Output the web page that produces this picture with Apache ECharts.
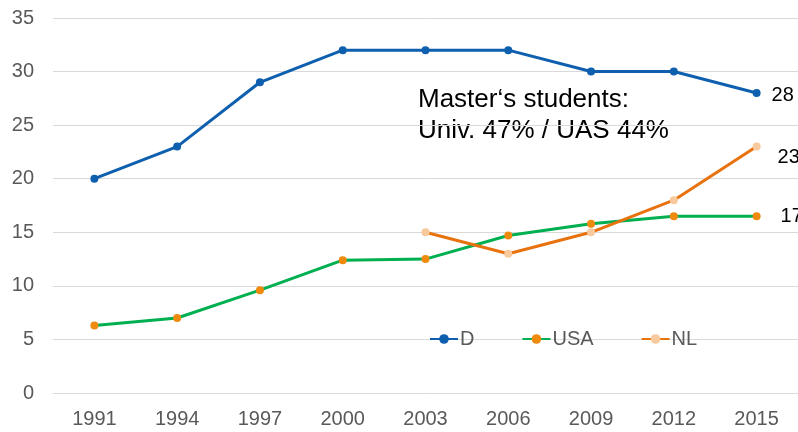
<!DOCTYPE html>
<html>
<head>
<meta charset="utf-8">
<script src="https://cdn.jsdelivr.net/npm/echarts@6/dist/echarts.min.js"></script>
<style>
  html, body { margin: 0; padding: 0; background: #fff; }
  #chart { width: 798px; height: 432px; }
</style>
</head>
<body>
<div id="chart"></div>
<script>
// 数据
const years = ['1991', '1994', '1997', '2000', '2003', '2006', '2009', '2012', '2015']
const dValues = [20, 23, 29, 32, 32, 32, 30, 30, 28]
const usaValues = [6.3, 7.0, 9.6, 12.4, 12.5, 14.7, 15.8, 16.5, 16.5]
const nlValues = [null, null, null, null, 15, 13, 15, 18, 23]
const endLabels = ['28', '23', '17']

const chartIns = echarts.init(document.getElementById('chart'))
const textFont = 'Liberation Sans, Arial, sans-serif'

// 只在最后一个点显示标签
const endLabel = (txt, offset) => ({
    show: true,
    position: 'right',
    distance: 3,
    offset: offset,
    formatter: (p) => p.dataIndex === years.length - 1 ? txt : '',
    color: '#000',
    fontSize: 20,
    fontFamily: textFont
})

const option = {
    animation: false,
    grid: {
        left: 53,
        top: 18,
        width: 755,
        height: 375
    },
    xAxis: {
        type: 'category',
        data: years,
        boundaryGap: true,
        axisLine: { show: false },
        axisTick: { show: false },
        axisLabel: { color: '#595959', fontSize: 20, fontFamily: textFont, margin: 16 }
    },
    yAxis: {
        type: 'value',
        min: 0,
        max: 35,
        interval: 5,
        axisLine: { show: false },
        axisTick: { show: false },
        axisLabel: { color: '#595959', fontSize: 20, fontFamily: textFont, margin: 19 },
        splitLine: { lineStyle: { color: '#d9d9d9', width: 1 } }
    },
    legend: {
        data: ['D', 'USA', 'NL'],
        left: 424,
        top: 324,
        itemWidth: 28,
        itemHeight: 12,
        itemGap: 47,
        textStyle: { color: '#595959', fontSize: 20, fontFamily: textFont, padding: [0, 0, 0, -3] }
    },
    graphic: [
        {
            type: 'text',
            left: 418,
            top: 84,
            style: {
                text: 'Master‘s students:\nUniv. 47% / UAS 44%',
                fill: '#000',
                fontSize: 26,
                lineHeight: 31,
                fontFamily: textFont
            }
        }
    ],
    series: [
        {
            name: 'D',
            type: 'line',
            data: dValues,
            symbol: 'circle',
            symbolSize: 8,
            lineStyle: { color: '#0F5FAF', width: 3 },
            itemStyle: { color: '#0F5FAF' },
            label: endLabel(endLabels[0], [8, 2])
        },
        {
            name: 'USA',
            type: 'line',
            data: usaValues,
            symbol: 'circle',
            symbolSize: 8,
            lineStyle: { color: '#00B050', width: 3 },
            itemStyle: { color: '#EE8A0E' },
            label: endLabel(endLabels[2], [17, 0])
        },
        {
            name: 'NL',
            type: 'line',
            data: nlValues,
            symbol: 'circle',
            symbolSize: 8,
            z: 3,
            lineStyle: { color: '#E8720E', width: 3 },
            itemStyle: { color: '#F8C99C' },
            label: endLabel(endLabels[1], [14, 11])
        }
    ]
}
chartIns.setOption(option)
</script>
</body>
</html>
